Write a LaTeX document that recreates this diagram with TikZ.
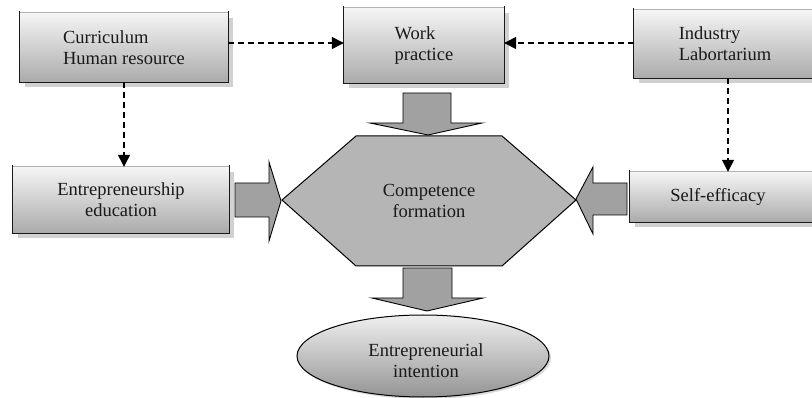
\documentclass[tikz,border=0pt]{standalone}
\usepackage{fontspec}
\setmainfont{Liberation Serif}
\usetikzlibrary{shapes.geometric,arrows.meta,shadows}
\begin{document}
\begin{tikzpicture}[x=1pt,y=-1pt,
  every node/.style={font=\fontsize{18.5}{21}\selectfont, text=black!90},
  boxshade/.style={rectangle, inner sep=0pt, top color=black!4, bottom color=black!33, draw=none,
    drop shadow={shadow xshift=5pt, shadow yshift=-5pt, fill=black!18, opacity=1}},
  bord/.style={draw=black!90, line width=1.3pt},
  topbord/.style={draw=black!30, line width=1pt},
  dashconn/.style={draw=black, line width=1.3pt, dash pattern=on 6pt off 4pt, -{Triangle[length=12pt,width=12pt]}},
  blockarrow/.style={fill=black!37, draw=black, line width=0.9pt, line join=miter},
  hexstyle/.style={fill=black!29, draw=black, line width=1pt, line join=miter}
]
\useasboundingbox (0,0) rectangle (812,398);

% boxes
\node[boxshade, minimum width=208pt, minimum height=69pt, align=left] (cur) at (124,47.5) {Curriculum\\Human resource};
\node[boxshade, minimum width=160pt, minimum height=75pt, align=left] (work) at (424,45.5) {Work\\practice};
\node[boxshade, minimum width=182pt, minimum height=68pt, align=left] (ind) at (725,44) {Industry\\Labortarium};
\node[boxshade, minimum width=216pt, minimum height=66pt, align=center] (ent) at (121,200) {Entrepreneurship\\education};
\node[boxshade, minimum width=186pt, minimum height=50pt, align=center] (self) at (723,197) {Self-efficacy\hspace*{10pt}};

\foreach \b in {cur,work,ind,ent,self}{
  \draw[topbord] (\b.north west) -- (\b.north east);
  \draw[bord] ([yshift=2pt]\b.north west) -- (\b.south west) -- (\b.south east) -- ([yshift=2pt]\b.north east);
}

% hexagon
\coordinate (hl) at (282,200);
\coordinate (htl) at (356,136);
\coordinate (htr) at (502,136);
\coordinate (hr) at (576,200);
\coordinate (hbr) at (502,266);
\coordinate (hbl) at (356,266);
\draw[hexstyle] (hl) -- (htl) -- (htr) -- (hr) -- (hbr) -- (hbl) -- cycle;
\node (comp) at (429,200.5) [align=center] {Competence\\formation};

% ellipse
\node[ellipse, minimum width=252pt, minimum height=82pt, inner sep=0pt, top color=black!6, bottom color=black!42,
  draw=black, line width=1pt, drop shadow={shadow xshift=2pt, shadow yshift=-2pt, fill=black!15, opacity=1}] (intent) at (423,356) {};
\node[align=center] (intentlabel) at (426,361) {Entrepreneurial\\intention};

% block arrows
\draw[blockarrow] (403,93) -- (451,93) -- (451,123) -- (482,123) -- (428,135) -- (370,123) -- (403,123) -- cycle;
\draw[blockarrow] (403,268) -- (452,268) -- (452,298) -- (483,298) -- (427,311) -- (372,298) -- (403,298) -- cycle;
\draw[blockarrow] (235,183) -- (269,183) -- (269,162) -- (281,201) -- (269,241) -- (269,217) -- (235,217) -- cycle;
\draw[blockarrow] (627,183) -- (593,183) -- (593,167) -- (576,199) -- (593,234) -- (593,215) -- (627,215) -- cycle;

% dashed connectors
\coordinate (dl) at (0,43);
\draw[dashconn] (cur.east |- dl) -- (work.west |- dl);
\draw[dashconn] (ind.west |- dl) -- (work.east |- dl);
\draw[dashconn] (cur.south) -- (cur.south |- ent.north);
\coordinate (indb) at (728,78);
\draw[dashconn] (indb) -- (indb |- self.north);
\end{tikzpicture}
\end{document}
